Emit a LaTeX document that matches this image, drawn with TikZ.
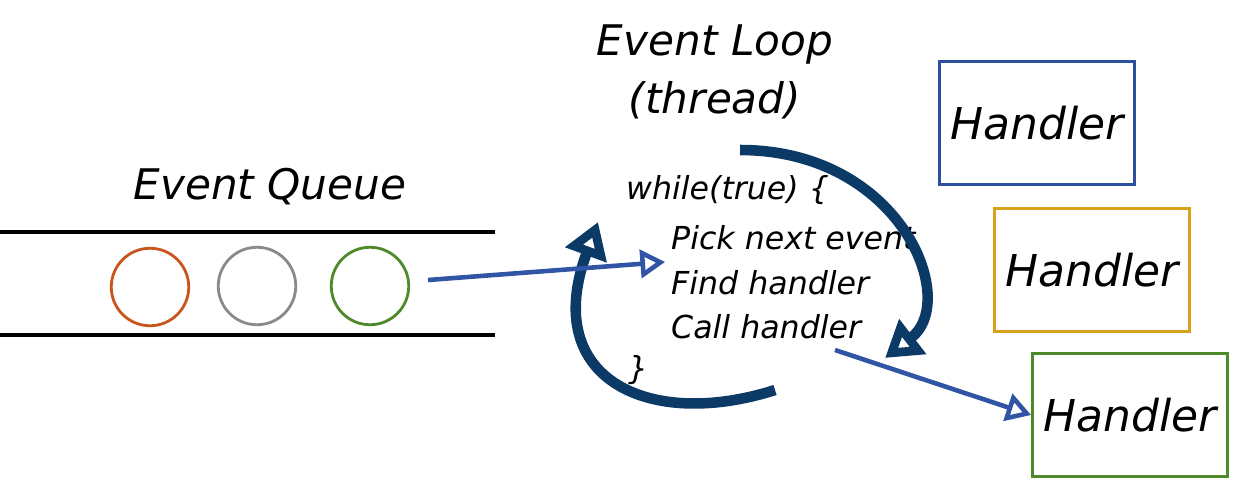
\documentclass[tikz,border=0pt]{standalone}
\usepackage{fontspec}
\setmainfont{DejaVu Sans}
\usetikzlibrary{arrows.meta}
\definecolor{loopnavy}{HTML}{0B3A66}
\definecolor{flowblue}{HTML}{2F55A4}
\definecolor{qorange}{HTML}{C8561A}
\definecolor{qgray}{HTML}{8A8A8A}
\definecolor{qgreen}{HTML}{4E8A2A}
\definecolor{hblue}{HTML}{2C4F9E}
\definecolor{hyellow}{HTML}{D9A21B}
\definecolor{hgreen}{HTML}{4E8A2A}
\tikzset{
  title/.style={font=\fontsize{24}{28}\selectfont\itshape},
  code/.style={font=\fontsize{18}{22}\selectfont\itshape, anchor=west},
  handlerbox/.style={draw, line width=1.6pt, minimum width=3.9cm, minimum height=2.45cm, text=black, font=\fontsize{25}{30}\selectfont\itshape},
  bubble/.style={circle, draw, line width=1.6pt, minimum size=1.55cm},
  flow/.style={-{Triangle[open,length=14pt,width=16pt]}, flowblue, line width=2.6pt},
  loop/.style={-{Triangle[open,length=20pt,width=24pt]}, loopnavy, line width=6pt},
}
\begin{document}
\begin{tikzpicture}[x=0.02cm, y=-0.02cm]
  \useasboundingbox (0,0) rectangle (1240,488);

  % Queue
  \draw[line width=2.2pt] (0,232) -- (495,232);
  \draw[line width=2.2pt] (0,335) -- (495,335);
  \node[title] (qtitle) at (270,187) {Event Queue};
  \node[bubble, qorange] (ev1) at (150,287) {};
  \node[bubble, qgray] (ev2) at (257,286) {};
  \node[bubble, qgreen] (ev3) at (370,286) {};

  % Loop
  \node[title] (ltitle) at (715,45) {Event Loop};
  \node[title] (lthread) at (715,100) {(thread)};
  \node[code] (cwhile) at (620,190) {while(true) \{};
  \node[code] (cpick) at (665,238) {Pick next event};
  \node[code] (cfind) at (665,283) {Find handler};
  \node[code] (ccall) at (665,327) {Call handler};
  \node[code] (cend) at (622,370) {\}};

  \coordinate (ltop) at (740,150);
  \coordinate (lright) at (885,358);
  \coordinate (lbot) at (775,390);
  \coordinate (lleft) at (598,222);
  \draw[loop] (ltop) .. controls (900,150) and (960,300) .. (lright);
  \draw[loop] (lbot) .. controls (650,430) and (540,380) .. (lleft);

  % Handlers
  \node[handlerbox, draw=hblue] (h1) at (1037,123) {Handler};
  \node[handlerbox, draw=hyellow] (h2) at (1092,270) {Handler};
  \node[handlerbox, draw=hgreen] (h3) at (1130,415) {Handler};

  % Arrows
  \coordinate (qout) at (428,280);
  \coordinate (qin) at (665,262);
  \draw[flow] (qout) -- (qin);
  \coordinate (hout) at (835,350);
  \draw[flow] (hout) -- (h3.west);
\end{tikzpicture}
\end{document}
